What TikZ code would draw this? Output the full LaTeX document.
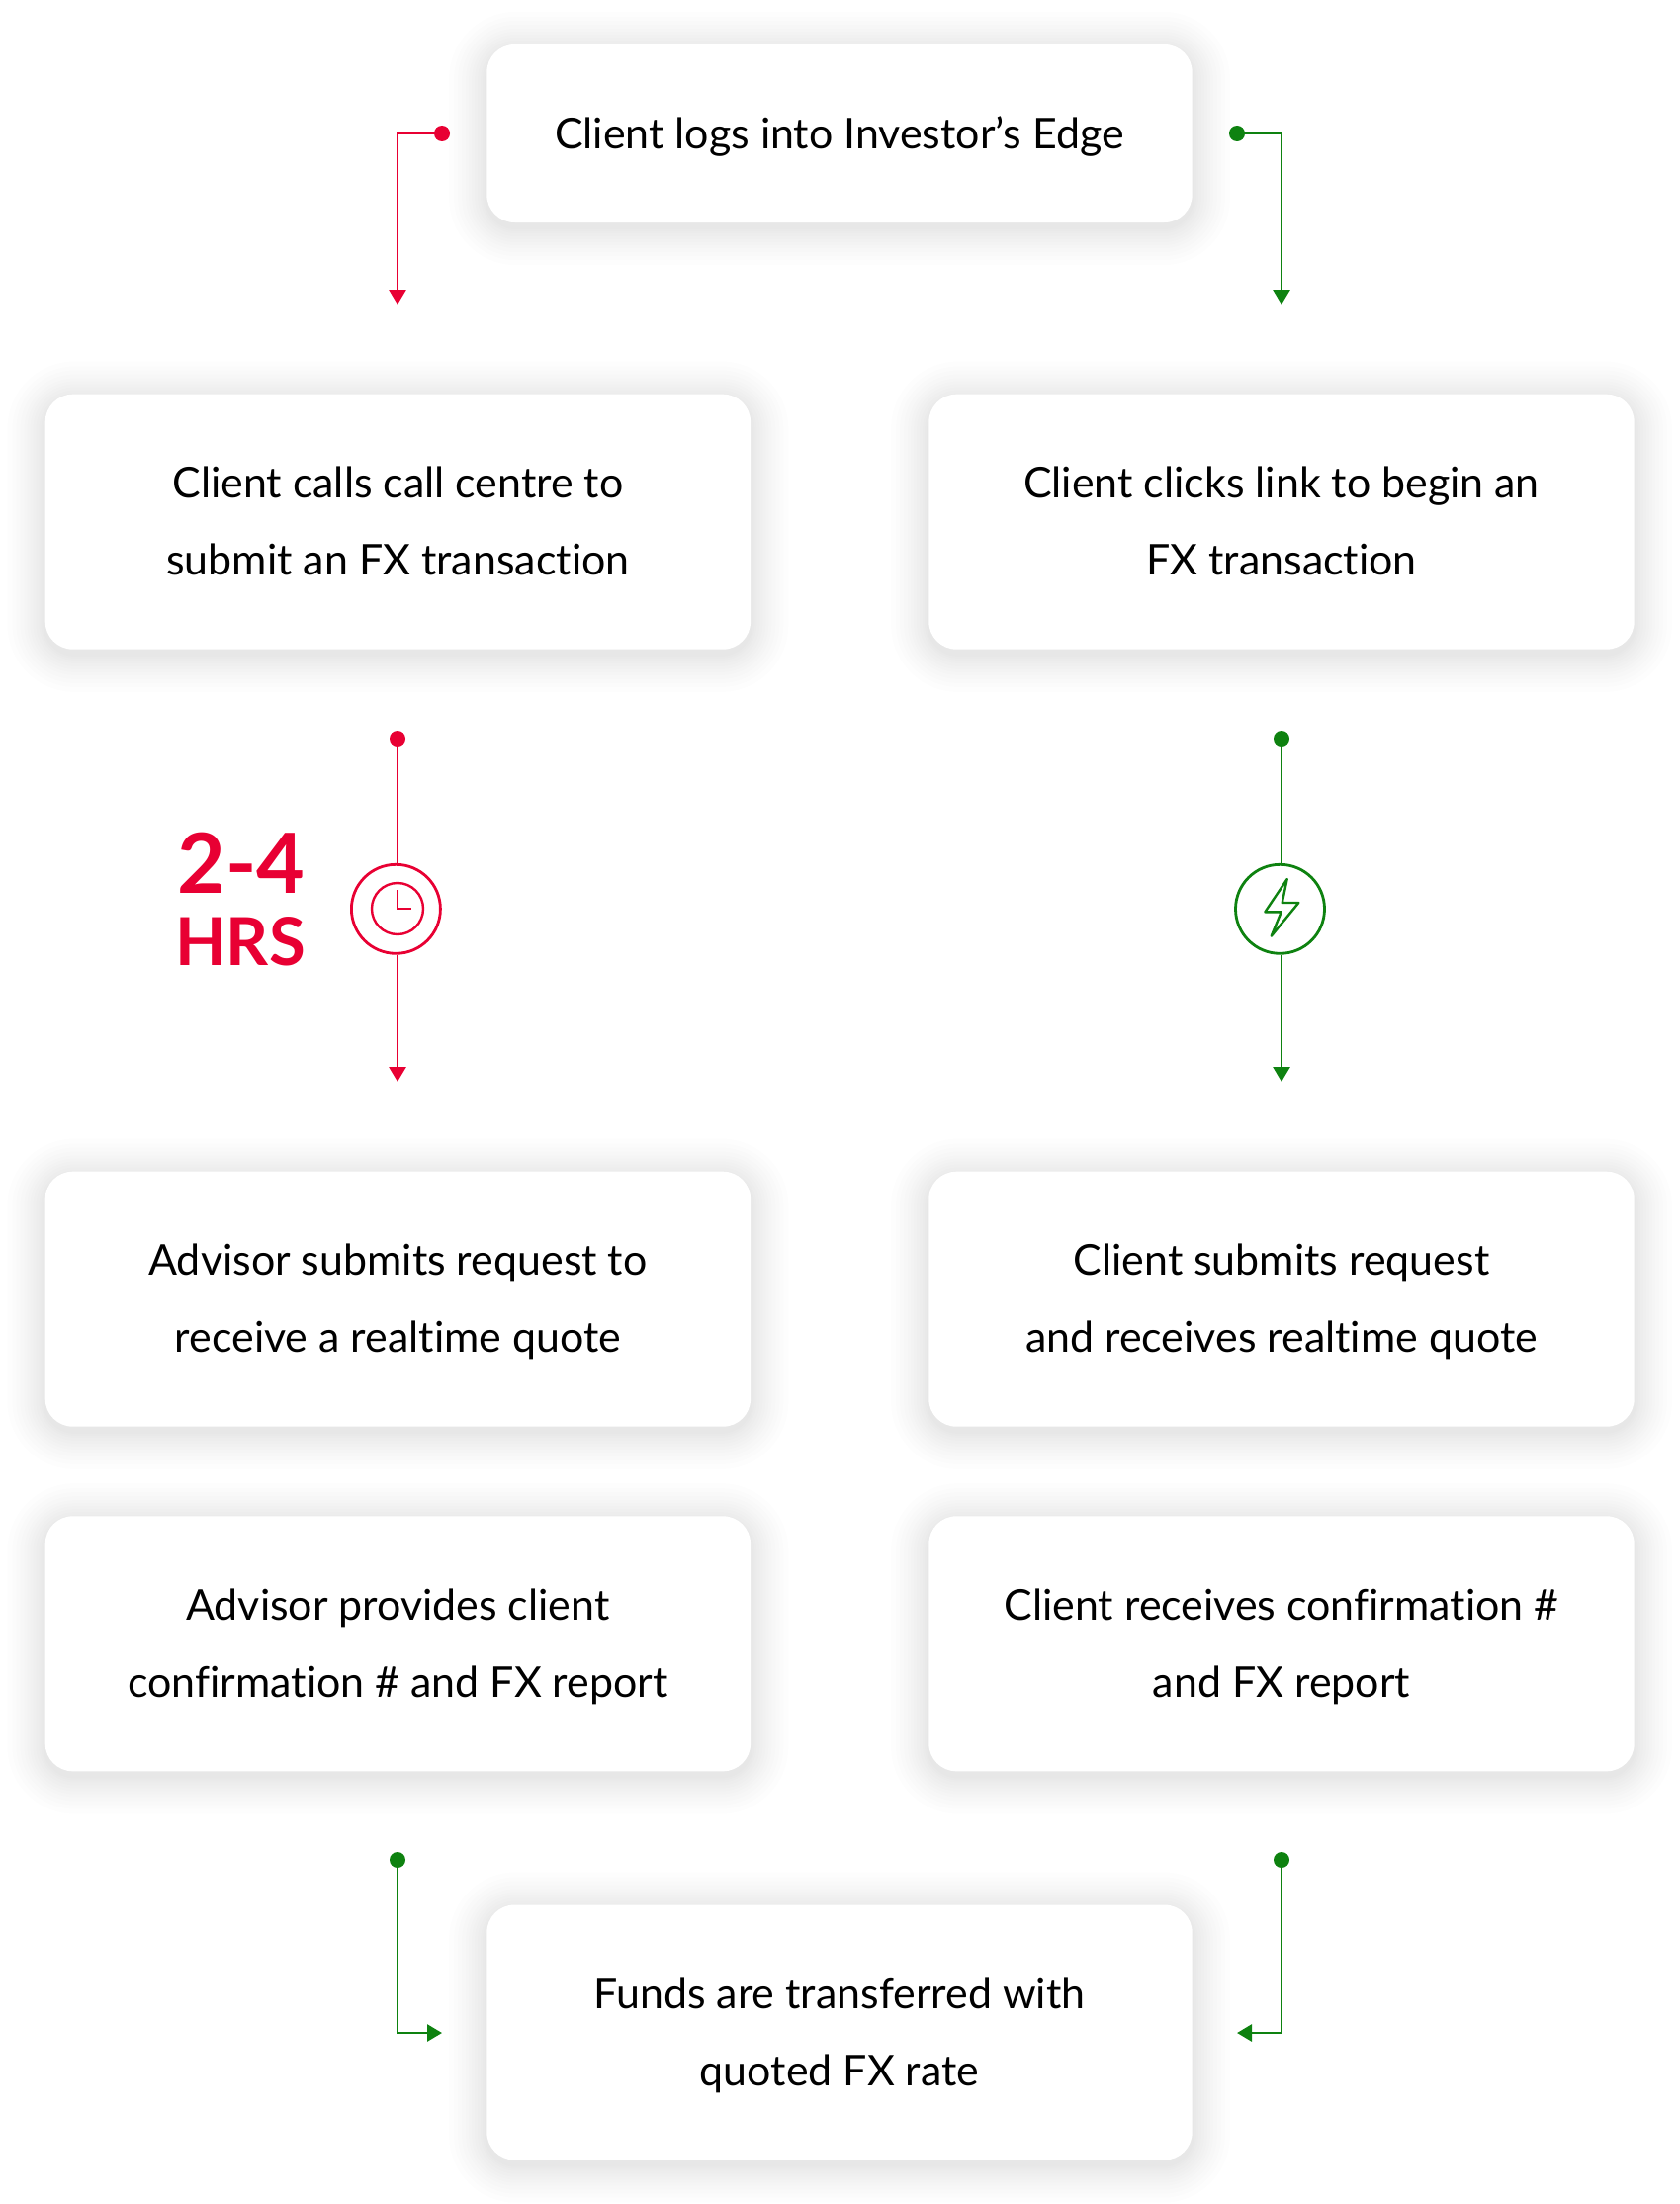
\documentclass[tikz,border=0pt]{standalone}
\usepackage{fontspec}
\setmainfont{Lato}[Ligatures=NoCommon]
\usetikzlibrary{arrows.meta,backgrounds,calc}
\definecolor{flowred}{HTML}{E80033}
\definecolor{flowgreen}{HTML}{0E8210}
\begin{document}
\begin{tikzpicture}[x=1pt,y=-1pt,
  card/.style={rectangle,fill=white,rounded corners=28pt,minimum width=713.4pt,minimum height=258pt,
    inner sep=0pt,align=center,font=\fontsize{42.9}{78}\selectfont,
    execute at begin node={\rule{0pt}{42pt}},execute at end node={\rule[-12pt]{0pt}{12pt}}},
  twoline/.style={card,execute at begin node={\rule{0pt}{120pt}}},
  dot/.style={circle,fill=#1,inner sep=0pt,minimum size=16pt},
  icon/.style={circle,draw=#1,line width=2.8pt,fill=white,inner sep=0pt,minimum size=90pt},
  flow/.style={draw=#1,line width=2.8pt,-{Triangle[length=15pt,width=17pt]},#1}]
\useasboundingbox (0,0) rectangle (1698,2229);
% boxes
\node[card,minimum height=180pt] (login) at (849,135) {Client logs into Investor’s Edge};
\node[twoline] (call) at (402.4,527.7) {Client calls call centre to\\submit an FX transaction};
\node[twoline] (link) at (1296,527.7) {Client clicks link to begin an\\FX transaction};
\node[twoline] (advisor) at (402.4,1313.7) {Advisor submits request to\\receive a realtime quote};
\node[twoline] (request) at (1296,1313.7) {Client submits request\\and receives realtime quote};
\node[twoline] (report) at (402.4,1662.3) {Advisor provides client\\confirmation \# and FX report};
\node[twoline] (receipt) at (1296,1662.3) {Client receives confirmation \#\\and FX report};
\node[twoline] (funds) at (849,2055.5) {Funds are transferred with\\quoted FX rate};
% shadows
\begin{scope}[on background layer]
\fill[white] (0,0) rectangle (1698,2229);
\foreach \b in {login,call,link,advisor,request,report,receipt,funds}
  \foreach \r in {2,4,6,9,12,15,18,21,25,29,33,38}
    \fill[black,opacity=.008,rounded corners=30pt+\r pt]
      ($(\b.north west)+(-\r,-\r+5)$) rectangle ($(\b.south east)+(\r,\r+5)$);
\end{scope}
% top arrows
\node[dot=flowred] (redstart) at (447,135) {};
\coordinate (redend) at (402,308);
\draw[flow=flowred] (redstart) -| (redend);
\node[dot=flowgreen] (greenstart) at (1251,135) {};
\coordinate (greenend) at (1296,308);
\draw[flow=flowgreen] (greenstart) -| (greenend);
% middle arrows
\node[dot=flowred] (reddot) at (402,747) {};
\node[icon=flowred] (clock) at (400.4,919.3) {};
\coordinate (face) at (402,919);
\coordinate (redtip) at (402,1094);
\draw[draw=flowred,line width=2.8pt] (reddot) -- (reddot |- clock.north);
\draw[flow=flowred] (redtip |- clock.south) -- (redtip);
\draw[flowred,line width=2.4pt] (face) circle [radius=26];
\draw[flowred,line width=2.4pt] ($(face)+(0,-19)$) -- (face) -- ($(face)+(14,0)$);
\node[text=flowred,font=\fontsize{84}{84}\bfseries] (hours) at (244,873) {2-4};
\node[text=flowred,font=\fontsize{67}{67}\bfseries] (hrs) at (243,952) {HRS};
\node[dot=flowgreen] (greendot) at (1296,747) {};
\node[icon=flowgreen] (bolt) at (1294.5,919.3) {};
\coordinate (flash) at (1296,919);
\coordinate (greentip) at (1296,1094);
\draw[draw=flowgreen,line width=2.8pt] (greendot) -- (greendot |- bolt.north);
\draw[flow=flowgreen] (greentip |- bolt.south) -- (greentip);
\draw[flowgreen,line width=2.4pt,line join=round] ($(flash)+(5.7,-30)$) -- ++(-22.4,33.3) -- ++(16.4,0)
  -- ++(-10,24.4) -- ++(27.6,-33.7) -- ++(-16.6,0) -- cycle;
% bottom arrows
\node[dot=flowgreen] (leftdot) at (402,1881) {};
\coordinate (lefttip) at (447,2056);
\draw[flow=flowgreen] (leftdot) |- (lefttip);
\node[dot=flowgreen] (rightdot) at (1296,1881) {};
\coordinate (righttip) at (1251,2056);
\draw[flow=flowgreen] (rightdot) |- (righttip);
\end{tikzpicture}
\end{document}
